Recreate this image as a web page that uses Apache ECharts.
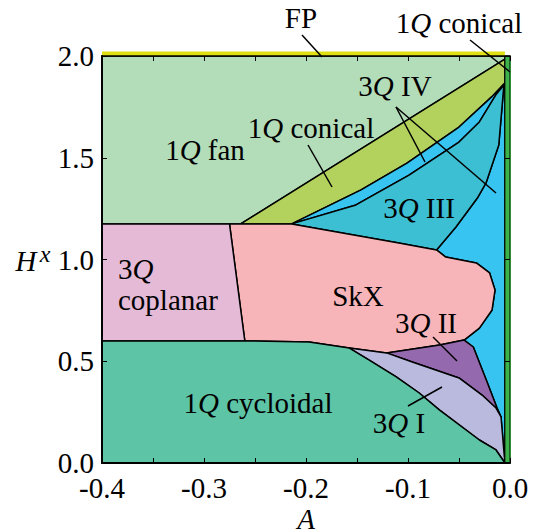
<!DOCTYPE html>
<html>
<head>
<meta charset="utf-8">
<script src="https://cdn.jsdelivr.net/npm/echarts@6/dist/echarts.min.js"></script>
<style>
  html, body { margin: 0; padding: 0; background: #fff; }
  #chart { width: 538px; height: 529px; }
</style>
</head>
<body>
<div id="chart"></div>
<script>
// Axis ranges and tick labels
const xTickValues = [-0.4, -0.3, -0.2, -0.1, 0.0];
const yTickValues = [0.0, 0.5, 1.0, 1.5, 2.0];

// Phase-boundary vertices, [A, H^x]
const fanLeft = [-0.4, 1.175];
const fanCorner = [-0.264, 1.175];
const fanTip = [-0.005, 1.985];
const fanTopRight = [-0.005, 2.0];
const P0 = [-0.214, 1.175];
const coplanarTop = [-0.275, 1.175];
const coplanarBottom = [-0.260, 0.600];
const cycloidalLeft = [-0.4, 0.600];
const L = [-0.1575, 0.565];
const J = [-0.045, 0.604];
const K = [-0.0088, 0.226];
const tip = [-0.005, 0.0];
const fpTop = 2.022;
const conicalStrip = [-0.005, 0.0];

const conicalLower = [P0, [-0.146, 1.342], [-0.101, 1.474], [-0.050, 1.651], [-0.018, 1.799], [-0.005, 1.867]];
const sliverLower = [P0, [-0.151, 1.268], [-0.099, 1.415], [-0.050, 1.577], [-0.030, 1.676], [-0.014, 1.808], [-0.006, 1.857]];
const q3Edge = [[-0.006, 1.857], [-0.011, 1.563], [-0.0235, 1.376], [-0.032, 1.302], [-0.053, 1.160], [-0.072, 1.047]];
const skxTop = [P0, [-0.109, 1.081], [-0.072, 1.047]];
const skxRight = [[-0.072, 1.047], [-0.063, 1.012], [-0.033, 0.983], [-0.020, 0.934], [-0.0147, 0.850], [-0.0176, 0.752], [-0.030, 0.663], J];
const skxBottom = [J, [-0.069, 0.580], [-0.121, 0.541], L, [-0.197, 0.595], coplanarBottom];
const q2Right = [J, [-0.036, 0.570], [-0.0225, 0.398], [-0.0127, 0.270], K];
const q1Upper = [[-0.121, 0.541], [-0.0958, 0.496], [-0.050, 0.418], [-0.0274, 0.334], [-0.0137, 0.270], K];
const q1Lower = [L, [-0.138, 0.506], [-0.1115, 0.423], [-0.089, 0.344], [-0.069, 0.260], [-0.030, 0.113], [-0.0137, 0.064], tip];

(function () {
  // Region polygons assembled from the shared boundaries
  const regions = [
    { name: 'fan', color: '#b3dcb9', pts: [fanLeft, fanCorner, fanTip, fanTopRight, [-0.4, 2.0]] },
    { name: 'conical', color: '#b2d25d', pts: [fanCorner, ...conicalLower, fanTip] },
    { name: '3Q IV', color: '#37c4f0', pts: [
        ...conicalLower, tip, K,
        ...q2Right.slice(0, -1).reverse(),
        ...skxRight.slice(0, -1).reverse(),
        ...q3Edge.slice(0, -1).reverse(),
        ...sliverLower.slice(1, -1).reverse()] },
    { name: '3Q III', color: '#3dbfd3', pts: [...sliverLower, ...q3Edge.slice(1), ...skxTop.slice(0, -1).reverse()] },
    { name: 'SkX', color: '#f8b5b9', pts: [coplanarTop, ...skxTop, ...skxRight.slice(1), ...skxBottom.slice(1)] },
    { name: 'coplanar', color: '#e4bad7', pts: [cycloidalLeft, fanLeft, coplanarTop, coplanarBottom] },
    { name: '3Q II', color: '#9569ad', pts: [...skxBottom.slice(0, 2), ...q1Upper, ...q2Right.slice(1, -1).reverse()] },
    { name: '3Q I', color: '#b9badd', pts: [L, ...q1Upper, tip, ...q1Lower.slice(1, -1).reverse()] },
    { name: 'cycloidal', color: '#5ec4a6', pts: [[-0.4, 0.0], cycloidalLeft, coplanarBottom, [-0.197, 0.595], ...q1Lower] },
    { name: 'conical A=0', color: '#3cb34a', pts: [conicalStrip, [0.0, 0.0], [0.0, 2.0], [conicalStrip[0], 2.0]] },
    { name: 'FP', color: '#dfdf12', pts: [[-0.4, 2.0], [-0.005, 2.0], [-0.005, fpTop], [-0.4, fpTop]] }
  ];

  const SERIF = 'Liberation Serif';
  const SIZE = 29;

  function makePolygonSeries(r) {
    const noStroke = r.name === 'FP';
    return {
      type: 'custom',
      name: r.name,
      silent: true,
      clip: false,
      data: [0],
      renderItem: function (params, api) {
        return {
          type: 'polygon',
          shape: { points: r.pts.map(p => api.coord(p)) },
          style: {
            fill: r.color,
            stroke: noStroke ? null : '#000',
            lineWidth: r.name === 'conical A=0' ? 1 : 1.5,
            lineJoin: 'round'
          }
        };
      }
    };
  }

  function makeLabel(text, x, y, align) {
    return {
      type: 'text', z: 100, silent: true,
      style: {
        text: text, x: x, y: y,
        fontFamily: SERIF, fontSize: SIZE, fill: '#000',
        align: align || 'center', verticalAlign: 'middle',
        rich: { i: { fontFamily: SERIF, fontSize: SIZE, fontStyle: 'italic', fill: '#000' } }
      }
    };
  }
  function makePointer(x1, y1, x2, y2) {
    return {
      type: 'line', z: 100, silent: true,
      shape: { x1: x1, y1: y1, x2: x2, y2: y2 },
      style: { stroke: '#000', lineWidth: 1.5 }
    };
  }
  function makeItalic(text, x, y, size) {
    return {
      type: 'text', z: 100, silent: true,
      style: { text: text, x: x, y: y, fontFamily: SERIF, fontSize: size, fontStyle: 'italic', fill: '#000', align: 'center', verticalAlign: 'middle' }
    };
  }

  const fmt = v => v.toFixed(1);
  const tickLine = () => ({ color: '#000', width: 1 });

  const option = {
    animation: false,
    backgroundColor: '#fff',
    grid: { left: 102, right: 28, top: 56, bottom: 66 },
    xAxis: [
      {
        type: 'value', position: 'bottom',
        min: xTickValues[0], max: xTickValues[xTickValues.length - 1], interval: 0.1,
        z: 10,
        axisLine: { show: true, onZero: false, lineStyle: { color: '#000', width: 2 } },
        axisTick: { show: true, inside: true, length: 5, lineStyle: tickLine() },
        minorTick: { show: true, splitNumber: 2, length: 5, lineStyle: tickLine() },
        axisLabel: { fontFamily: SERIF, fontSize: SIZE, color: '#000', margin: 10, formatter: fmt },
        splitLine: { show: false }
      },
      {
        type: 'value', position: 'top',
        min: xTickValues[0], max: xTickValues[xTickValues.length - 1], interval: 0.1,
        z: 10,
        axisLine: { show: true, onZero: false, lineStyle: { color: '#000', width: 1.5 } },
        axisTick: { show: true, inside: true, length: 5, lineStyle: tickLine() },
        minorTick: { show: true, splitNumber: 2, length: 5, lineStyle: tickLine() },
        axisLabel: { show: false },
        splitLine: { show: false }
      }
    ],
    yAxis: [
      {
        type: 'value', position: 'left',
        min: yTickValues[0], max: yTickValues[yTickValues.length - 1], interval: 0.5,
        z: 10,
        axisLine: { show: true, onZero: false, lineStyle: { color: '#000', width: 2 } },
        axisTick: { show: true, inside: true, length: 5, lineStyle: tickLine() },
        axisLabel: { fontFamily: SERIF, fontSize: SIZE, color: '#000', margin: 8, formatter: fmt },
        splitLine: { show: false }
      },
      {
        type: 'value', position: 'right',
        min: yTickValues[0], max: yTickValues[yTickValues.length - 1], interval: 0.5,
        z: 10,
        axisLine: { show: true, onZero: false, lineStyle: { color: '#2f8c37', width: 1 } },
        axisTick: { show: true, inside: true, length: 5, lineStyle: tickLine() },
        axisLabel: { show: false },
        splitLine: { show: false }
      }
    ],
    series: regions.map(makePolygonSeries),
    graphic: [
      // axis titles
      makeItalic('H', 26, 261, SIZE),
      makeItalic('x', 45, 254, 24),
      makeItalic('A', 306, 519, SIZE),

      // phase labels
      makeLabel('FP', 301, 18),
      makeLabel('1{i|Q} conical', 459, 23),
      makeLabel('3{i|Q} IV', 395, 86),
      makeLabel('1{i|Q} conical', 311, 128),
      makeLabel('1{i|Q} fan', 205, 150),
      makeLabel('3{i|Q} III', 419, 208),
      makeLabel('3{i|Q}', 118, 269, 'left'),
      makeLabel('coplanar', 118, 300, 'left'),
      makeLabel('SkX', 358, 296),
      makeLabel('3{i|Q} II', 426, 323),
      makeLabel('1{i|Q} cycloidal', 258, 403),
      makeLabel('3{i|Q} I', 399, 423),

      // pointer lines
      makePointer(302, 35, 322, 57),
      makePointer(470, 40, 510, 72),
      makePointer(396, 107, 425, 162),
      makePointer(396, 107, 496, 193),
      makePointer(308, 145, 332, 187),
      makePointer(433, 337, 457, 361),
      makePointer(408, 406, 442, 387)
    ]
  };

  const chart = echarts.init(document.getElementById('chart'), null, { renderer: 'svg' });
  chart.setOption(option);
})();
</script>
</body>
</html>
